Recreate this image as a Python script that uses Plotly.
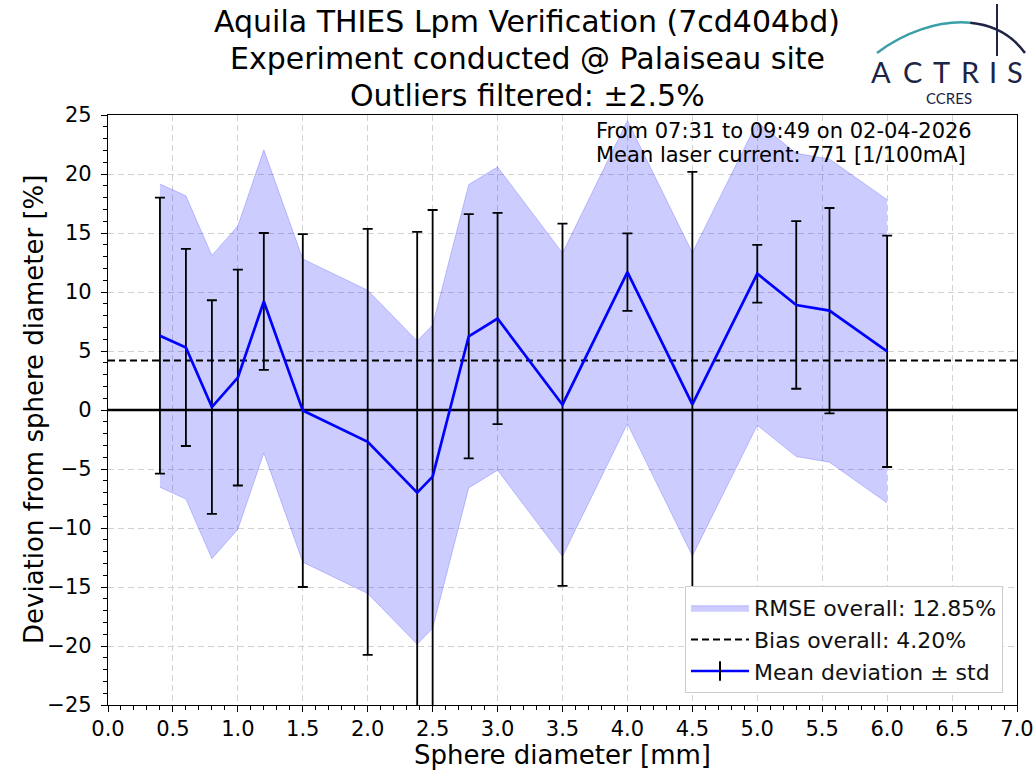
import plotly.graph_objects as go

# ---- data -----------------------------------------------------------------
# Calibration sphere diameters [mm]
diameter_mm = [0.4, 0.6, 0.8, 1.0, 1.2, 1.5, 2.0, 2.381, 2.5, 2.778,
               3.0, 3.5, 4.0, 4.5, 5.0, 5.3, 5.556, 6.0]
# Mean deviation from the sphere diameter [%] for each size
mean_dev = [6.3, 5.3, 0.25, 2.75, 9.2, -0.05, -2.7, -7.0, -5.65, 6.25,
            7.75, 0.45, 11.68, 0.48, 11.55, 8.9, 8.42, 4.97]
# Standard deviation of the deviation [%] for each size
std_dev = [11.7, 8.35, 9.05, 9.15, 5.8, 14.95, 18.05, 22.1, 22.6, 10.35,
           8.95, 15.35, 3.28, 19.7, 2.45, 7.1, 8.7, 9.8]

rmse_overall = 12.85
bias_overall = 4.20

x_range = [0.0, 7.0]
y_range = [-25, 25]
x_tick_vals = [0.0, 0.5, 1.0, 1.5, 2.0, 2.5, 3.0, 3.5, 4.0, 4.5, 5.0, 5.5, 6.0, 6.5, 7.0]
y_tick_vals = [-25, -20, -15, -10, -5, 0, 5, 10, 15, 20, 25]

title_lines = [
    "Aquila THIES Lpm Verification (7cd404bd)",
    "Experiment conducted @ Palaiseau site",
    "Outliers filtered: \u00b12.5%",
]
info_lines = [
    "From 07:31 to 09:49 on 02-04-2026",
    "Mean laser current: 771 [1/100mA]",
]

# ---- geometry helpers -----------------------------------------------------
W, H = 1036, 771
ML, MR, MT, MB = 108, 19, 115, 66
PW, PH = W - ML - MR, H - MT - MB


def px_x(px):
    return (px - ML) / PW


def px_y(py):
    return (H - MB - py) / PH


FONT = "DejaVu Sans"
NAVY = "#1d2445"
TEAL = "#3a9fa6"
BAND = "rgba(0,0,255,0.2)"

upper = [m + rmse_overall for m in mean_dev]
lower = [m - rmse_overall for m in mean_dev]

fig = go.Figure()

# RMSE band around the mean deviation
fig.add_trace(go.Scatter(
    x=diameter_mm, y=upper, mode="lines",
    line=dict(color=BAND, width=1), showlegend=False, hoverinfo="skip",
))
fig.add_trace(go.Scatter(
    x=diameter_mm, y=lower, mode="lines",
    line=dict(color=BAND, width=1), fill="tonexty", fillcolor=BAND,
    name=f"RMSE overall: {rmse_overall:.2f}%",
))

# Overall bias
fig.add_trace(go.Scatter(
    x=x_range, y=[bias_overall, bias_overall], mode="lines",
    line=dict(color="black", width=2, dash="7px,4px"),
    name=f"Bias overall: {bias_overall:.2f}%",
))

# Zero reference
fig.add_trace(go.Scatter(
    x=x_range, y=[0, 0], mode="lines",
    line=dict(color="black", width=2.5), showlegend=False, hoverinfo="skip",
))

# Mean deviation with +/- std error bars
fig.add_trace(go.Scatter(
    x=diameter_mm, y=mean_dev, mode="lines",
    line=dict(color="#0000ff", width=2.7),
    error_y=dict(type="data", array=std_dev, visible=True,
                 color="black", thickness=1.8, width=5),
    showlegend=False,
))
# legend entry for the mean curve (line + error-bar glyph)
fig.add_trace(go.Scatter(
    x=[None], y=[None], mode="lines+markers",
    line=dict(color="#0000ff", width=2.7),
    marker=dict(symbol="line-ns", size=14, color="black",
                line=dict(color="black", width=2)),
    name="Mean deviation \u00b1 std",
))

annotations = []
title_y = [22, 59, 95]
for text, yy in zip(title_lines, title_y):
    annotations.append(dict(
        text=text, x=px_x(527), y=px_y(yy), xref="paper", yref="paper",
        xanchor="center", yanchor="middle", showarrow=False,
        font=dict(family=FONT, size=30, color="black"),
    ))

info_y = [131, 155]
for text, yy in zip(info_lines, info_y):
    annotations.append(dict(
        text=text, x=px_x(594), y=px_y(yy), xref="paper", yref="paper",
        xanchor="left", yanchor="middle", showarrow=False,
        font=dict(family=FONT, size=21, color="black"),
    ))

# axis titles
annotations.append(dict(
    text="Sphere diameter [mm]", x=px_x(562), y=px_y(755),
    xref="paper", yref="paper", xanchor="center", yanchor="middle",
    showarrow=False, font=dict(family=FONT, size=26, color="black"),
))
annotations.append(dict(
    text="Deviation from sphere diameter [%]", x=px_x(34), y=px_y(410),
    xref="paper", yref="paper", xanchor="center", yanchor="middle",
    textangle=-90, showarrow=False,
    font=dict(family=FONT, size=26, color="black"),
))

# ACTRIS / CCRES logo
for letter, cx in zip("ACTRIS", [881, 912, 941, 970, 993, 1015]):
    annotations.append(dict(
        text=letter, x=px_x(cx), y=px_y(72), xref="paper", yref="paper",
        xanchor="center", yanchor="middle", showarrow=False,
        font=dict(family="Lato", size=29, color=NAVY),
    ))
annotations.append(dict(
    text="CCRES", x=px_x(949), y=px_y(98), xref="paper", yref="paper",
    xanchor="center", yanchor="middle", showarrow=False,
    font=dict(family="Lato", size=15, color=NAVY),
))


def split_cubic(p0, p1, p2, p3, t):
    def lerp(a, b):
        return (a[0] + (b[0] - a[0]) * t, a[1] + (b[1] - a[1]) * t)
    a, b, c = lerp(p0, p1), lerp(p1, p2), lerp(p2, p3)
    d, e = lerp(a, b), lerp(b, c)
    f = lerp(d, e)
    return (p0, a, d, f), (f, e, c, p3)


def cubic_path(seg):
    pts = [(px_x(x), px_y(y)) for x, y in seg]
    return "M {0[0]} {0[1]} C {1[0]} {1[1]}, {2[0]} {2[1]}, {3[0]} {3[1]}".format(*pts)


arc = ((877, 53), (920, 20), (990, 5), (1025, 53))
left_arc, right_arc = split_cubic(*arc, 0.6)
shapes = [
    dict(type="path", xref="paper", yref="paper", path=cubic_path(left_arc),
         line=dict(color=TEAL, width=2.5)),
    dict(type="path", xref="paper", yref="paper", path=cubic_path(right_arc),
         line=dict(color=NAVY, width=2.5)),
    dict(type="line", xref="paper", yref="paper",
         x0=px_x(997), x1=px_x(997), y0=px_y(4), y1=px_y(56),
         line=dict(color=NAVY, width=2)),
]

axis_common = dict(
    showline=True, linecolor="black", linewidth=1.3, mirror=True,
    ticks="outside", ticklen=6, tickwidth=1.3, tickcolor="black",
    showgrid=True, gridcolor="#d2d2d2", gridwidth=1, griddash="6px,4px",
    zeroline=False, tickfont=dict(family=FONT, size=21, color="black"),
    automargin=False,
)

fig.update_layout(
    width=W, height=H, autosize=False,
    margin=dict(l=ML, r=MR, t=MT, b=MB, pad=0),
    paper_bgcolor="white", plot_bgcolor="white",
    font=dict(family=FONT, color="black"),
    xaxis=dict(
        range=x_range, tickvals=x_tick_vals, tickformat=".1f",
        ticklabelstandoff=-1,
        minor=dict(dtick=0.1, ticks="outside", ticklen=3.5, tickwidth=1,
                   tickcolor="black", showgrid=False),
        **axis_common,
    ),
    yaxis=dict(
        range=y_range, tickvals=y_tick_vals, ticklabelstandoff=5,
        minor=dict(dtick=1, ticks="outside", ticklen=3.5, tickwidth=1,
                   tickcolor="black", showgrid=False),
        **axis_common,
    ),
    legend=dict(
        x=px_x(1003), y=px_y(693), xanchor="right", yanchor="bottom",
        bgcolor="white", bordercolor="#cccccc", borderwidth=1,
        font=dict(family=FONT, size=22, color="#111111"),
        itemwidth=58, traceorder="normal",
    ),
    annotations=annotations,
    shapes=shapes,
    showlegend=True,
)

fig.write_html("out.html")
